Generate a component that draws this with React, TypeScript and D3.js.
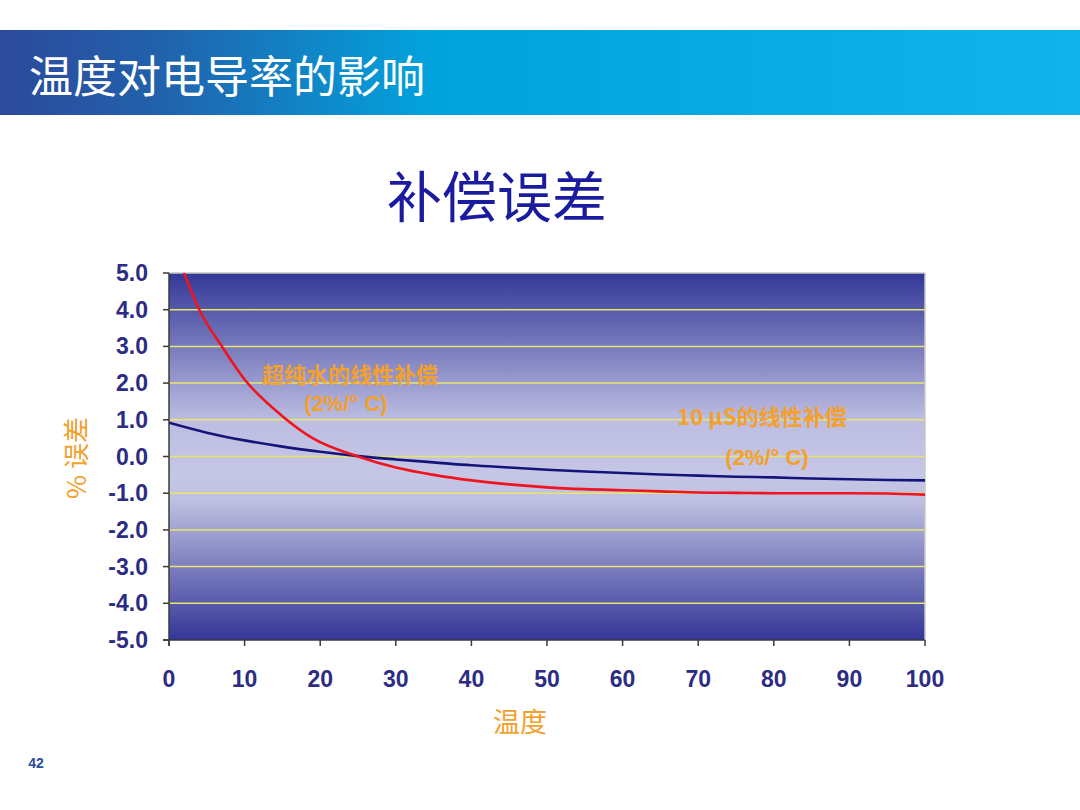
import { useMemo } from "react";
import * as d3 from "d3";

const pureTemps = [2, 4, 7, 10, 15, 19, 25, 30, 35, 40, 45, 50, 55, 60, 65, 70, 75, 80, 85, 90, 95, 100];
const pureError = [5.0, 4.0, 3.0, 2.1, 1.1, 0.5, 0.0, -0.3, -0.5, -0.65, -0.76, -0.84, -0.89, -0.92, -0.95, -0.98, -0.99, -1.0, -1.0, -1.0, -1.01, -1.04];

const tenTemps = [0, 5, 10, 15, 20, 25, 30, 35, 40, 45, 50, 55, 60, 65, 70, 75, 80, 85, 90, 95, 100];
const tenError = [0.92, 0.65, 0.44, 0.27, 0.13, 0.01, -0.08, -0.16, -0.24, -0.3, -0.36, -0.41, -0.45, -0.49, -0.52, -0.55, -0.57, -0.6, -0.62, -0.64, -0.65];

const yTicks = [5, 4, 3, 2, 1, 0, -1, -2, -3, -4, -5];
const xTicks = [0, 10, 20, 30, 40, 50, 60, 70, 80, 90, 100];

const W = 1080;
const H = 810;
const m = { left: 169, right: 925, top: 273, bottom: 640 };

const CJK = "'Noto Sans CJK SC', 'Noto Sans', sans-serif";
const SANS = "'Liberation Sans', Arial, sans-serif";
const ORANGE = "#f2a02e";
const TICK = "#2d2c85";

export default function App() {
  const x = useMemo(() => d3.scaleLinear().domain([0, 100]).range([m.left, m.right]), []);
  const y = useMemo(() => d3.scaleLinear().domain([-5, 5]).range([m.bottom, m.top]), []);

  const line = d3
    .line<[number, number]>()
    .x((d) => x(d[0]))
    .y((d) => y(d[1]))
    .curve(d3.curveMonotoneX);

  const pure = line(pureTemps.map((t, i) => [t, pureError[i]] as [number, number]))!;
  const ten = line(tenTemps.map((t, i) => [t, tenError[i]] as [number, number]))!;

  return (
    <svg
      width={W}
      height={H}
      style={{ position: "absolute", left: 0, top: 0, display: "block", background: "#fff" }}
    >
      <defs>
        <linearGradient id="hdr" x1="0" x2="1" y1="0" y2="0">
          <stop offset="0" stopColor="#2c4a9c" />
          <stop offset="0.14" stopColor="#2260ab" />
          <stop offset="0.4" stopColor="#02a3dd" />
          <stop offset="1" stopColor="#12b3ea" />
        </linearGradient>
        <linearGradient id="plot" x1="0" x2="0" y1="0" y2="1">
          <stop offset="0" stopColor="#333898" />
          <stop offset="0.4" stopColor="#bcbde1" />
          <stop offset="0.55" stopColor="#c6c6e6" />
          <stop offset="0.62" stopColor="#bfc0e2" />
          <stop offset="1" stopColor="#333697" />
        </linearGradient>
        <clipPath id="clip">
          <rect x={m.left} y={m.top} width={m.right - m.left} height={m.bottom - m.top} />
        </clipPath>
      </defs>

      {/* header */}
      <rect x={0} y={30} width={W} height={85} fill="url(#hdr)" />
      <text x={29} y={93} fill="#fff" fontFamily={CJK} fontSize={44}>
        温度对电导率的影响
      </text>

      <text x={497} y={217} textAnchor="middle" fill="#1b1ba0" fontFamily={CJK} fontSize={55}>
        补偿误差
      </text>

      {/* plot area */}
      <rect x={m.left} y={m.top} width={m.right - m.left} height={m.bottom - m.top} fill="url(#plot)" />
      {yTicks
        .filter((t) => t !== -5)
        .map((t) => (
          <line
            key={t}
            x1={m.left}
            x2={m.right}
            y1={y(t)}
            y2={y(t)}
            stroke={t === 5 ? "#c8c8c0" : "#e6e66a"}
            strokeWidth={1.5}
          />
        ))}
      <line x1={m.right} x2={m.right} y1={m.top} y2={m.bottom} stroke="#c8c8c8" strokeWidth={1.5} />

      {/* annotations */}
      <g fontFamily={CJK} fontWeight="bold" fill={ORANGE} fontSize={22} textAnchor="middle">
        <text x={350} y={383}>超纯水的线性补偿</text>
        <text x={346} y={411} fontFamily={SANS}>(2%/° C)</text>
        <text x={762} y={425}>10 μS的线性补偿</text>
        <text x={767} y={465} fontFamily={SANS}>(2%/° C)</text>
      </g>

      <g clipPath="url(#clip)" fill="none" strokeLinejoin="round" strokeLinecap="round">
        <path d={ten} stroke="#14157a" strokeWidth={2.6} />
        <path d={pure} stroke="#f0141e" strokeWidth={2.6} />
      </g>

      {/* axes */}
      <g stroke="#3a3a3a" strokeWidth={1.5}>
        <line x1={m.left} x2={m.left} y1={m.top} y2={m.bottom + 6} />
        <line x1={m.left - 6} x2={m.right} y1={m.bottom} y2={m.bottom} />
        {yTicks.map((t) => (
          <line key={t} x1={m.left - 6} x2={m.left} y1={y(t)} y2={y(t)} />
        ))}
        {xTicks.map((t) => (
          <line key={t} x1={x(t)} x2={x(t)} y1={m.bottom} y2={m.bottom + 6} />
        ))}
      </g>
      <g fontFamily={SANS} fontWeight="bold" fontSize={23} fill={TICK}>
        {yTicks.map((t) => (
          <text key={t} x={148} y={y(t) + 8} textAnchor="end">
            {d3.format(".1f")(t).replace("−", "-")}
          </text>
        ))}
        {xTicks.map((t) => (
          <text key={t} x={x(t)} y={687} textAnchor="middle">
            {t}
          </text>
        ))}
      </g>

      <text
        transform={`translate(86,458) rotate(-90)`}
        textAnchor="middle"
        fill={ORANGE}
        fontFamily={CJK}
        fontSize={26}
      >
        % 误差
      </text>
      <text x={520} y={732} textAnchor="middle" fill={ORANGE} fontFamily={CJK} fontSize={27}>
        温度
      </text>

      <text x={36} y={768} textAnchor="middle" fill="#2d4a9c" fontFamily={SANS} fontWeight="bold" fontSize={14}>
        42
      </text>
    </svg>
  );
}
